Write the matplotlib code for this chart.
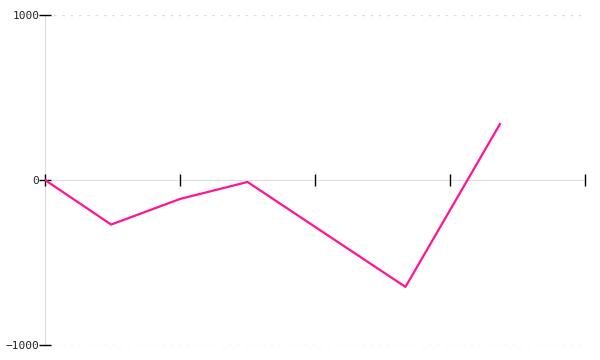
import matplotlib.pyplot as plt

# data
x_vals = [0.0, 0.49, 1.0, 1.5, 2.67, 3.37]
y_vals = [0, -270, -115, -12, -648, 339]
x_ticks = [0, 1, 2, 3, 4]
y_ticks = [-1000, 0, 1000]

fig = plt.figure(figsize=(6, 3.6), dpi=100)
ax = fig.add_axes([0.075, 1 - 345 / 360, 0.9, 330 / 360])

ax.plot(x_vals, y_vals, color="#ff1493", linewidth=1.6, zorder=3)

ax.set_xlim(0, 4)
ax.set_ylim(-1000, 1000)

# dotted grid lines at the extremes
for yv in (-1000, 1000):
    ax.axhline(yv, color="#dddddd", linestyle=(0, (2, 4)), linewidth=1, zorder=1)

for side in ("top", "right"):
    ax.spines[side].set_visible(False)
ax.spines["bottom"].set_position(("data", 0))
for side in ("bottom", "left"):
    ax.spines[side].set_color("#dddddd")
    ax.spines[side].set_zorder(0.5)

ax.set_xticks(x_ticks)
ax.set_xticklabels([])
ax.tick_params(axis="x", direction="inout", length=9, width=1, color="black")
ax.set_yticks(y_ticks)
ax.set_yticklabels([str(v).replace("-", "\u2212") for v in y_ticks],
                   family="DejaVu Sans Mono")
ax.tick_params(axis="y", direction="inout", length=8, width=1, color="black",
               labelsize=8, labelcolor="#222222", pad=0)

fig.savefig("out.png", dpi=100)
